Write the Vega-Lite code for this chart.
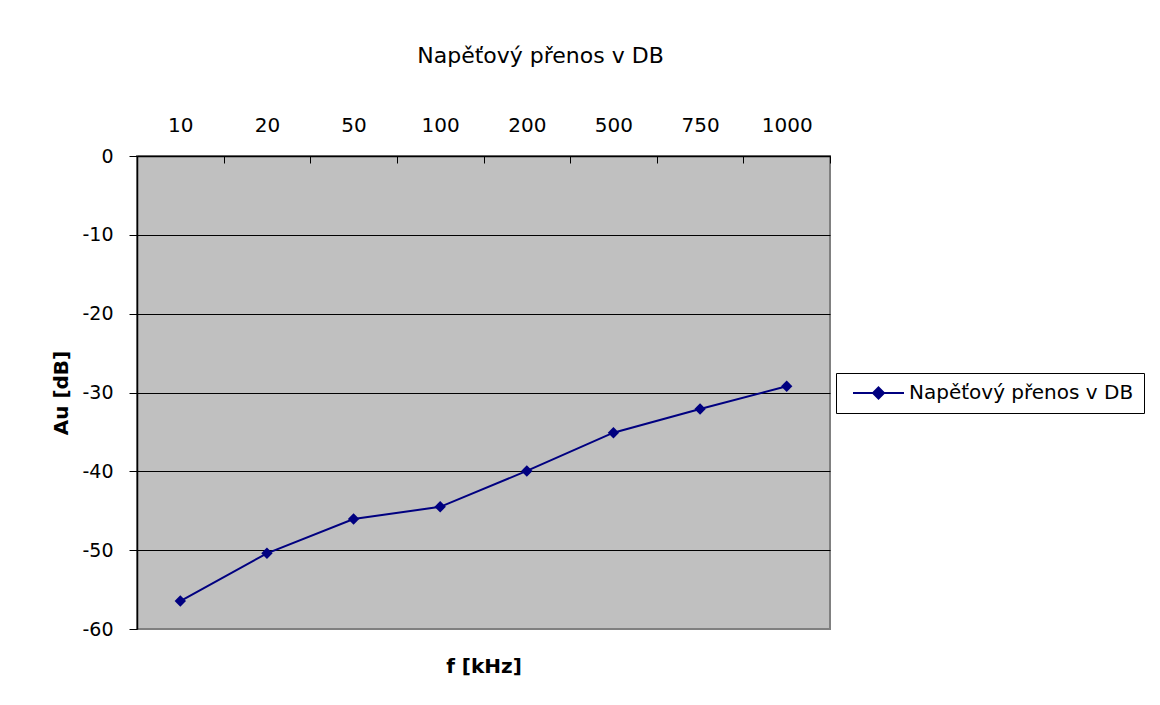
{
  "$schema": "https://vega.github.io/schema/vega-lite/v6.json",
  "width": 693,
  "height": 473,
  "autosize": {"type": "none"},
  "padding": {"left": 137, "top": 156, "right": 330, "bottom": 76},
  "background": "white",
  "config": {
    "font": "DejaVu Sans",
    "view": {"fill": "#C0C0C0", "stroke": "#808080", "strokeWidth": 2},
    "axis": {"labelColor": "black", "titleColor": "black", "labelFont": "DejaVu Sans", "titleFont": "DejaVu Sans"}
  },
  "title": {
    "text": "Napěťový přenos v DB",
    "font": "DejaVu Sans",
    "fontSize": 22,
    "fontWeight": "normal",
    "color": "black",
    "anchor": "middle",
    "dx": 57,
    "offset": 47
  },
  "data": {
    "values": [
      {"f": "10", "au": -56.45, "s": "Napěťový přenos v DB"},
      {"f": "20", "au": -50.4, "s": "Napěťový přenos v DB"},
      {"f": "50", "au": -46.05, "s": "Napěťový přenos v DB"},
      {"f": "100", "au": -44.5, "s": "Napěťový přenos v DB"},
      {"f": "200", "au": -39.95, "s": "Napěťový přenos v DB"},
      {"f": "500", "au": -35.1, "s": "Napěťový přenos v DB"},
      {"f": "750", "au": -32.1, "s": "Napěťový přenos v DB"},
      {"f": "1000", "au": -29.2, "s": "Napěťový přenos v DB"}
    ]
  },
  "resolve": {"axis": {"x": "independent"}},
  "layer": [
    {
      "mark": {"type": "line", "strokeWidth": 2},
      "encoding": {
        "x": {
          "field": "f",
          "type": "ordinal",
          "sort": null,
          "scale": {"type": "band", "paddingInner": 0, "paddingOuter": 0},
          "axis": {
            "orient": "top",
            "title": null,
            "labelAngle": 0,
            "labelFontSize": 20,
            "labelPadding": 28,
            "tickBand": "extent",
            "tickSize": -7,
            "tickColor": "black",
            "domainColor": "black",
            "domainWidth": 1.5,
            "grid": false
          }
        },
        "y": {
          "field": "au",
          "type": "quantitative",
          "scale": {"domain": [-60, 0], "nice": false, "zero": false},
          "axis": {
            "values": [-60, -50, -40, -30, -20, -10, 0],
            "labelExpr": "toString(datum.value)",
            "title": "Au [dB]",
            "titleFontSize": 20,
            "titleFontWeight": "bold",
            "titlePadding": 10,
            "labelFontSize": 19,
            "labelPadding": 16,
            "tickSize": 8,
            "tickColor": "black",
            "domainColor": "black",
            "domainWidth": 1.5,
            "grid": true,
            "gridColor": {"condition": {"test": "datum.value === -60", "value": "#808080"}, "value": "black"},
            "gridOpacity": 1,
            "gridWidth": 1
          }
        },
        "color": {
          "field": "s",
          "type": "nominal",
          "scale": {"range": ["#000080"]},
          "legend": {
            "title": null,
            "orient": "none",
            "legendX": 699,
            "legendY": 217,
            "strokeColor": "black",
            "fillColor": "white",
            "padding": 10,
            "labelFontSize": 20,
            "labelFont": "DejaVu Sans",
            "labelColor": "black",
            "labelLimit": 400,
            "labelOffset": 43,
            "symbolSize": 100,
            "symbolType": "M-0.6,0L9.6,0M4.5,-1.1L5.6,0L4.5,1.1L3.4,0Z",
            "symbolStrokeWidth": 2,
            "encode": {
              "symbols": {
                "update": {
                  "fill": {"value": "#000080"},
                  "stroke": {"value": "#000080"},
                  "strokeWidth": {"value": 2}
                }
              }
            }
          }
        }
      }
    },
    {
      "mark": {"type": "point", "shape": "diamond", "filled": true, "size": 130, "opacity": 1},
      "encoding": {
        "x": {
          "field": "f",
          "type": "ordinal",
          "sort": null,
          "scale": {"type": "band", "paddingInner": 0, "paddingOuter": 0},
          "axis": {
            "orient": "bottom",
            "title": "f [kHz]",
            "titleFontSize": 20,
            "titleFontWeight": "bold",
            "titlePadding": 27,
            "labels": false,
            "ticks": false,
            "domain": false,
            "grid": false
          }
        },
        "y": {"field": "au", "type": "quantitative"},
        "color": {"field": "s", "type": "nominal"}
      }
    }
  ]
}
